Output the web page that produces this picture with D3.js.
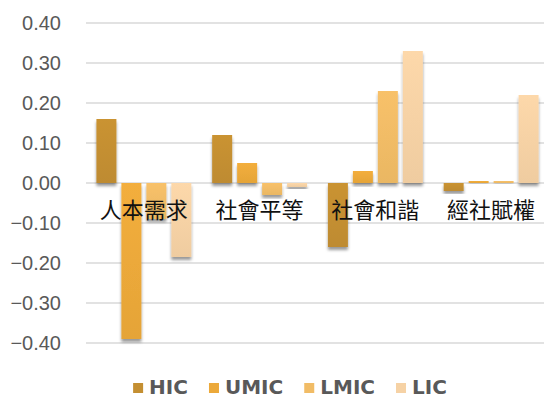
<!DOCTYPE html>
<html lang="zh-Hant">
<head>
<meta charset="UTF-8">
<script src="https://cdn.jsdelivr.net/npm/d3@7"></script>
<style>
  body { margin: 0; background: #fff; }
  svg { display: block; }
  .grid line { stroke: #d9d9d9; stroke-width: 1.5px; }
  .ytick text { font: 20px "Liberation Sans", Arial, sans-serif; fill: #595959; }
  .cat { font: 22px "Noto Sans CJK TC", sans-serif; fill: #111; }
  .legend text { font: bold 20px "DejaVu Sans", Verdana, sans-serif; fill: #595959; }
</style>
</head>
<body>
<script>
var categories = ['人本需求', '社會平等', '社會和諧', '經社賦權'];
var series = ['HIC', 'UMIC', 'LMIC', 'LIC'];
var HIC  = [0.16, 0.12, -0.16, -0.02];
var UMIC = [-0.39, 0.05, 0.03, 0.005];
var LMIC = [-0.09, -0.03, 0.23, 0.005];
var LIC  = [-0.185, -0.01, 0.33, 0.22];
var yTicks = [-0.4, -0.3, -0.2, -0.1, 0, 0.1, 0.2, 0.3, 0.4];
var colors = ['#c48f32', '#eca93a', '#f1bc66', '#f6d2a5'];

var values = [HIC, UMIC, LMIC, LIC];
var width = 544, height = 400;

var svg = d3.select('body').append('svg')
    .attr('width', width).attr('height', height);

var defs = svg.append('defs');
var shadow = defs.append('filter').attr('id', 'shadow')
    .attr('x', '-30%').attr('y', '-30%').attr('width', '160%').attr('height', '160%');
shadow.append('feDropShadow')
    .attr('dx', 0).attr('dy', 3).attr('stdDeviation', 1.5)
    .attr('flood-color', '#000').attr('flood-opacity', 0.4);

colors.forEach(function(c, i) {
  var gr = defs.append('linearGradient').attr('id', 'grad' + i)
      .attr('x1', 0).attr('y1', 0).attr('x2', 0).attr('y2', 1);
  gr.append('stop').attr('offset', '0%').attr('stop-color', d3.color(c).brighter(0.08));
  gr.append('stop').attr('offset', '100%').attr('stop-color', d3.color(c).darker(0.08));
});

var y = d3.scaleLinear().domain([-0.4, 0.4]).range([343, 23]);
var x0 = d3.scaleBand().domain(categories).range([86, 549])
    .paddingInner(0.18).paddingOuter(0.09);
var x1 = d3.scaleBand().domain(series).range([0, x0.bandwidth()])
    .paddingInner(0.2).paddingOuter(0);

// gridlines
svg.append('g').attr('class', 'grid')
  .selectAll('line').data(yTicks).enter().append('line')
    .attr('x1', 86).attr('x2', width)
    .attr('y1', function(d) { return y(d); })
    .attr('y2', function(d) { return y(d); });

// y tick labels
svg.append('g').attr('class', 'ytick')
  .selectAll('text').data(yTicks).enter().append('text')
    .attr('x', 61)
    .attr('y', function(d) { return y(d); })
    .attr('dy', '0.36em')
    .attr('text-anchor', 'end')
    .text(function(d) { return d3.format('.2f')(d); });

// bars
var groups = svg.append('g').selectAll('g').data(categories).enter().append('g')
    .attr('transform', function(d) { return 'translate(' + x0(d) + ',0)'; });

groups.selectAll('rect')
  .data(function(d, ci) {
    return series.map(function(s, si) { return { s: s, si: si, v: values[si][ci] }; });
  })
  .enter().append('rect')
    .attr('x', function(d) { return x1(d.s); })
    .attr('width', x1.bandwidth())
    .attr('y', function(d) { return y(Math.max(0, d.v)); })
    .attr('height', function(d) { return Math.abs(y(d.v) - y(0)); })
    .attr('fill', function(d) { return 'url(#grad' + d.si + ')'; })
    .attr('filter', 'url(#shadow)');

// category labels
svg.append('g').selectAll('text').data(categories).enter().append('text')
    .attr('class', 'cat')
    .attr('x', function(d) { return x0(d) + x0.bandwidth() / 2; })
    .attr('y', 218)
    .attr('text-anchor', 'middle')
    .text(function(d) { return d; });

// legend
var legend = svg.append('g').attr('class', 'legend');
var items = legend.selectAll('g').data(series).enter().append('g');
items.append('rect')
    .attr('width', 10).attr('height', 10).attr('y', 383)
    .attr('fill', function(d, i) { return colors[i]; });
items.append('text')
    .attr('x', 16).attr('y', 394)
    .text(function(d) { return d; });

var pos = 0;
items.each(function() {
  var w = d3.select(this).select('text').node().getComputedTextLength();
  d3.select(this).attr('transform', 'translate(' + pos + ',0)');
  pos += 16 + w + 21;
});
var total = pos - 21;
legend.attr('transform', 'translate(' + (290 - total / 2) + ',0)');
</script>
</body>
</html>
